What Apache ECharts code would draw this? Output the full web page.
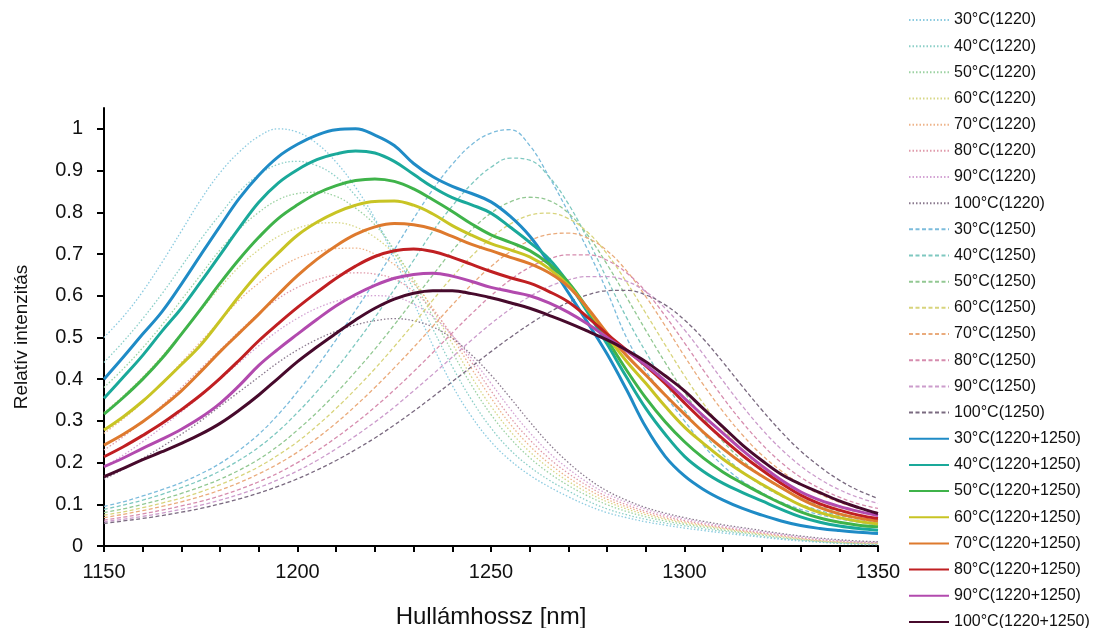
<!DOCTYPE html>
<html><head><meta charset="utf-8">
<script src="https://cdn.jsdelivr.net/npm/echarts@6/dist/echarts.min.js"></script>
<style>html,body{margin:0;padding:0;background:#fff}#c{width:1094px;height:628px}</style>
</head><body><div id="c"></div>
<script>
// Wavelength grid (nm), 1150..1350 step 5
const wavelengths = [1150,1155,1160,1165,1170,1175,1180,1185,1190,1195,1200,1205,1210,1215,1220,1225,1230,1235,1240,1245,1250,1255,1260,1265,1270,1275,1280,1285,1290,1295,1300,1305,1310,1315,1320,1325,1330,1335,1340,1345,1350];

// 1220 component (dotted)
const d30_1220  = [0.50,0.55,0.61,0.68,0.755,0.83,0.895,0.945,0.982,1.0,0.992,0.965,0.92,0.86,0.785,0.69,0.585,0.48,0.385,0.31,0.25,0.205,0.17,0.142,0.118,0.097,0.08,0.068,0.058,0.05,0.043,0.037,0.031,0.026,0.021,0.016,0.012,0.009,0.006,0.004,0.003];
const d40_1220  = [0.44,0.49,0.545,0.605,0.67,0.735,0.795,0.85,0.89,0.915,0.922,0.912,0.885,0.84,0.78,0.705,0.615,0.52,0.43,0.35,0.283,0.23,0.19,0.158,0.132,0.108,0.089,0.075,0.064,0.055,0.048,0.041,0.035,0.029,0.023,0.018,0.014,0.01,0.007,0.005,0.004];
const d50_1220  = [0.38,0.425,0.475,0.53,0.59,0.65,0.71,0.76,0.80,0.83,0.845,0.848,0.838,0.81,0.77,0.71,0.635,0.55,0.465,0.385,0.315,0.258,0.212,0.175,0.145,0.12,0.099,0.083,0.07,0.06,0.052,0.045,0.038,0.032,0.026,0.02,0.015,0.011,0.008,0.006,0.005];
const d60_1220  = [0.32,0.36,0.405,0.455,0.51,0.565,0.62,0.67,0.71,0.742,0.762,0.773,0.775,0.765,0.74,0.70,0.64,0.565,0.485,0.405,0.335,0.275,0.226,0.187,0.155,0.128,0.106,0.089,0.075,0.064,0.055,0.048,0.041,0.034,0.028,0.022,0.017,0.012,0.009,0.007,0.006];
const d70_1220  = [0.27,0.305,0.345,0.39,0.44,0.49,0.54,0.59,0.63,0.665,0.69,0.705,0.713,0.714,0.70,0.675,0.63,0.57,0.50,0.425,0.355,0.292,0.24,0.198,0.164,0.136,0.112,0.094,0.079,0.067,0.058,0.05,0.043,0.036,0.03,0.024,0.018,0.013,0.01,0.008,0.007];
const d80_1220  = [0.23,0.262,0.298,0.337,0.38,0.425,0.47,0.515,0.557,0.593,0.62,0.638,0.65,0.655,0.652,0.64,0.61,0.565,0.505,0.44,0.372,0.308,0.255,0.21,0.174,0.144,0.118,0.099,0.083,0.071,0.061,0.053,0.045,0.038,0.032,0.026,0.02,0.015,0.012,0.009,0.008];
const d90_1220  = [0.19,0.218,0.25,0.285,0.322,0.36,0.40,0.44,0.48,0.516,0.546,0.57,0.587,0.597,0.60,0.597,0.58,0.55,0.505,0.45,0.39,0.328,0.272,0.224,0.185,0.152,0.125,0.105,0.088,0.075,0.065,0.056,0.048,0.041,0.034,0.028,0.022,0.017,0.013,0.01,0.009];
const d100_1220 = [0.16,0.184,0.21,0.238,0.268,0.30,0.335,0.37,0.405,0.44,0.47,0.495,0.515,0.53,0.54,0.545,0.54,0.525,0.498,0.458,0.41,0.355,0.298,0.245,0.20,0.162,0.132,0.11,0.092,0.079,0.068,0.059,0.051,0.044,0.037,0.03,0.024,0.019,0.015,0.012,0.01];

// 1250 component (dashed)
const d30_1250  = [0.095,0.106,0.12,0.135,0.152,0.173,0.198,0.23,0.268,0.315,0.37,0.43,0.495,0.565,0.635,0.71,0.785,0.855,0.915,0.962,0.99,0.998,0.96,0.885,0.80,0.71,0.61,0.50,0.42,0.36,0.30,0.24,0.192,0.155,0.128,0.105,0.088,0.075,0.065,0.057,0.05];
const d40_1250  = [0.088,0.098,0.11,0.124,0.14,0.158,0.18,0.206,0.237,0.275,0.32,0.37,0.425,0.485,0.548,0.615,0.685,0.755,0.815,0.868,0.908,0.93,0.925,0.885,0.82,0.735,0.64,0.548,0.465,0.39,0.325,0.268,0.218,0.178,0.145,0.12,0.10,0.085,0.073,0.064,0.057];
const d50_1250  = [0.08,0.089,0.10,0.112,0.126,0.142,0.16,0.182,0.208,0.24,0.278,0.32,0.367,0.418,0.472,0.53,0.59,0.65,0.708,0.758,0.798,0.825,0.836,0.828,0.798,0.745,0.675,0.597,0.517,0.44,0.368,0.305,0.25,0.205,0.168,0.138,0.115,0.097,0.083,0.073,0.066];
const d60_1250  = [0.074,0.082,0.092,0.103,0.115,0.13,0.147,0.167,0.19,0.218,0.25,0.288,0.33,0.376,0.425,0.478,0.533,0.59,0.645,0.695,0.738,0.772,0.793,0.798,0.785,0.752,0.70,0.633,0.558,0.482,0.408,0.34,0.28,0.23,0.188,0.155,0.128,0.108,0.092,0.081,0.073];
const d70_1250  = [0.068,0.076,0.085,0.095,0.106,0.119,0.134,0.152,0.173,0.197,0.225,0.258,0.295,0.336,0.38,0.427,0.476,0.527,0.578,0.627,0.67,0.706,0.732,0.747,0.75,0.738,0.708,0.66,0.598,0.528,0.455,0.385,0.322,0.266,0.218,0.18,0.148,0.124,0.105,0.091,0.08];
const d80_1250  = [0.062,0.069,0.077,0.086,0.096,0.107,0.12,0.136,0.154,0.175,0.20,0.228,0.26,0.295,0.333,0.374,0.418,0.464,0.511,0.557,0.60,0.638,0.668,0.688,0.698,0.698,0.685,0.655,0.61,0.552,0.487,0.42,0.355,0.296,0.244,0.20,0.165,0.138,0.117,0.101,0.09];
const d90_1250  = [0.058,0.064,0.071,0.079,0.088,0.098,0.11,0.124,0.14,0.159,0.18,0.205,0.233,0.264,0.297,0.333,0.372,0.412,0.453,0.494,0.533,0.568,0.598,0.622,0.638,0.646,0.646,0.635,0.61,0.57,0.518,0.458,0.395,0.335,0.28,0.232,0.192,0.16,0.135,0.116,0.102];
const d100_1250 = [0.054,0.06,0.066,0.073,0.081,0.09,0.101,0.113,0.127,0.143,0.161,0.182,0.205,0.231,0.259,0.29,0.323,0.358,0.394,0.43,0.466,0.50,0.532,0.56,0.584,0.602,0.612,0.613,0.602,0.578,0.542,0.495,0.44,0.382,0.326,0.274,0.228,0.19,0.158,0.133,0.114];

// Combined (solid)
const s30  = [0.40,0.453,0.508,0.562,0.628,0.698,0.767,0.834,0.889,0.933,0.963,0.985,0.998,1.0,0.985,0.96,0.917,0.885,0.862,0.845,0.825,0.79,0.743,0.678,0.607,0.535,0.46,0.375,0.285,0.215,0.168,0.135,0.11,0.09,0.074,0.06,0.049,0.042,0.037,0.033,0.03];
const s40  = [0.354,0.405,0.457,0.515,0.57,0.633,0.698,0.763,0.824,0.87,0.902,0.926,0.94,0.947,0.942,0.922,0.891,0.86,0.835,0.818,0.798,0.764,0.728,0.688,0.63,0.56,0.484,0.405,0.33,0.268,0.215,0.178,0.15,0.128,0.108,0.088,0.07,0.057,0.048,0.042,0.038];
const s50  = [0.316,0.356,0.40,0.45,0.508,0.568,0.63,0.688,0.74,0.785,0.818,0.845,0.864,0.876,0.88,0.874,0.856,0.83,0.802,0.772,0.746,0.728,0.708,0.676,0.632,0.568,0.495,0.422,0.355,0.298,0.25,0.21,0.177,0.15,0.125,0.102,0.082,0.067,0.057,0.05,0.046];
const s60  = [0.278,0.31,0.347,0.39,0.435,0.482,0.54,0.60,0.655,0.702,0.745,0.776,0.80,0.817,0.826,0.827,0.817,0.796,0.768,0.745,0.725,0.71,0.693,0.665,0.625,0.568,0.503,0.443,0.39,0.335,0.285,0.245,0.208,0.176,0.148,0.122,0.098,0.08,0.068,0.059,0.053];
const s70  = [0.242,0.268,0.298,0.333,0.372,0.418,0.466,0.511,0.556,0.603,0.648,0.687,0.72,0.747,0.765,0.773,0.77,0.76,0.742,0.723,0.708,0.692,0.677,0.655,0.622,0.57,0.51,0.457,0.41,0.362,0.316,0.272,0.233,0.198,0.168,0.14,0.113,0.092,0.077,0.067,0.06];
const s80  = [0.214,0.238,0.265,0.294,0.327,0.362,0.402,0.446,0.492,0.533,0.572,0.608,0.642,0.671,0.694,0.708,0.712,0.706,0.692,0.675,0.658,0.643,0.63,0.61,0.585,0.548,0.508,0.47,0.432,0.39,0.343,0.298,0.256,0.217,0.182,0.15,0.122,0.101,0.086,0.074,0.066];
const s90  = [0.19,0.211,0.234,0.256,0.28,0.308,0.342,0.385,0.433,0.472,0.508,0.543,0.576,0.603,0.625,0.642,0.651,0.654,0.647,0.634,0.62,0.61,0.60,0.583,0.56,0.532,0.50,0.468,0.434,0.396,0.354,0.311,0.27,0.229,0.192,0.158,0.13,0.11,0.095,0.083,0.073];
const s100 = [0.166,0.186,0.207,0.226,0.246,0.268,0.294,0.326,0.362,0.402,0.442,0.477,0.51,0.542,0.57,0.592,0.606,0.612,0.612,0.605,0.595,0.583,0.57,0.553,0.535,0.515,0.494,0.47,0.442,0.408,0.372,0.328,0.285,0.242,0.205,0.172,0.148,0.128,0.108,0.092,0.078];

const temps = ['30','40','50','60','70','80','90','100'];
const xTicksLabeled = [1150,1200,1250,1300,1350];
const yTickValues = [0,0.1,0.2,0.3,0.4,0.5,0.6,0.7,0.8,0.9,1];

const dotted = [d30_1220,d40_1220,d50_1220,d60_1220,d70_1220,d80_1220,d90_1220,d100_1220];
const dashed = [d30_1250,d40_1250,d50_1250,d60_1250,d70_1250,d80_1250,d90_1250,d100_1250];
const solid  = [s30,s40,s50,s60,s70,s80,s90,s100];

const dottedColors = ['#8ccbe0','#8ccfc8','#9cd2a2','#d8d888','#eeb48a','#e09aaa','#d4a4d4','#8a7a8e'];
const dashedColors = ['#7cbcdc','#7ec8c0','#92c892','#d8d47c','#eaab7c','#d68cae','#cc9ccc','#7a6a80'];
const solidColors  = ['#1f8bc6','#1aa99a','#3fb34a','#c8c424','#de7a2e','#c01f22','#b24aae','#470a2c'];

const toPts = arr => wavelengths.map((x,i)=>[x,arr[i]]);
const series = [];
const mk = (name, arr, color, width, type) => ({
  name, type:'line', data: toPts(arr), showSymbol:false, symbol:'none', smooth:0.4,
  lineStyle:{color, width, type}, itemStyle:{color}, emphasis:{disabled:true}, silent:true
});
temps.forEach((t,i)=>series.push(mk(t+'°C(1220)', dotted[i], dottedColors[i], 1.3, [1.5,2])));
temps.forEach((t,i)=>series.push(mk(t+'°C(1250)', dashed[i], dashedColors[i], 1.3, [4,2.5])));
temps.forEach((t,i)=>series.push(mk(t+'°C(1220+1250)', solid[i], solidColors[i], 3, 'solid')));

const font = 'Liberation Sans';
const chart = echarts.init(document.getElementById('c'), null, {renderer:'canvas'});
chart.setOption({
  animation:false,
  backgroundColor:'#fff',
  grid:{left:104, right:216, top:108, bottom:82, containLabel:false, outerBoundsMode:'none'},
  legend:{
    orient:'vertical', left:908, top:12, height:700, padding:0, itemWidth:40, itemHeight:14, itemGap:10.17,
    itemStyle:{opacity:0, color:'rgba(0,0,0,0)', borderColor:'rgba(0,0,0,0)', borderWidth:0},
    textStyle:{fontFamily:font, fontSize:16, color:'#111', lineHeight:16},
    data: series.map(s=>s.name), selectedMode:false
  },
  xAxis:{
    type:'value', min:1150, max:1350, interval:10,
    name:'Hullámhossz [nm]', nameLocation:'middle', nameGap:59,
    nameTextStyle:{fontFamily:font, fontSize:24, color:'#111'},
    axisLine:{lineStyle:{color:'#000', width:2}},
    axisTick:{length:6, lineStyle:{color:'#000', width:2}},
    axisLabel:{margin:16, fontFamily:font, fontSize:20, color:'#111',
      formatter: v => xTicksLabeled.indexOf(v) >= 0 ? String(v) : ''},
    splitLine:{show:false}
  },
  yAxis:{
    type:'value', min:0, max:1.05,
    name:'Relatív intenzitás', nameLocation:'middle', nameGap:73,
    nameTextStyle:{fontFamily:font, fontSize:19, color:'#111', padding:[0,20,0,0]},
    axisLine:{show:true, lineStyle:{color:'#000', width:2}},
    axisTick:{show:true, length:7, customValues:yTickValues, lineStyle:{color:'#000', width:2}},
    axisLabel:{margin:21, fontFamily:font, fontSize:20, color:'#111', customValues:yTickValues,
      formatter: v => (Math.abs(v) < 1e-9 ? '0' : (Math.abs(v-1) < 1e-9 ? '1' : v.toFixed(1)))},
    splitLine:{show:false}
  },
  series
});
</script></body></html>
